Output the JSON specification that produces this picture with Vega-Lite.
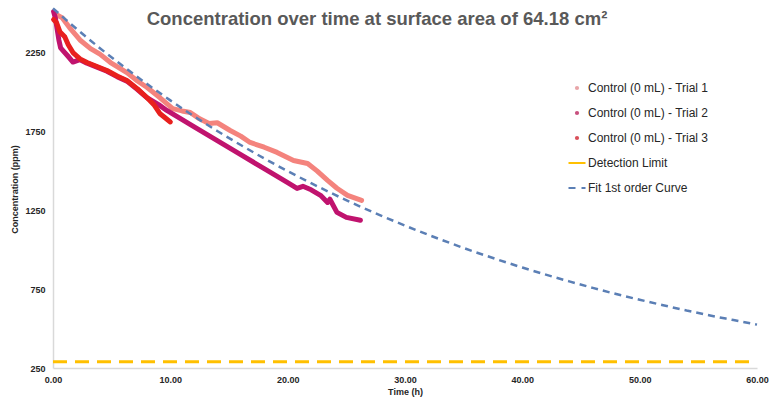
{
  "$schema": "https://vega.github.io/schema/vega-lite/v6.json",
  "width": 704,
  "height": 358,
  "autosize": {"type": "none"},
  "padding": {"left": 53, "top": 10, "right": 16, "bottom": 41},
  "background": "white",
  "title": {
    "text": "Concentration over time at surface area of 64.18 cm²",
    "font": "Liberation Sans",
    "fontSize": 18.5,
    "fontWeight": "bold",
    "color": "#595959",
    "anchor": "middle",
    "dx": -28,
    "offset": -25
  },
  "config": {
    "view": {"stroke": null},
    "font": "Liberation Sans",
    "axis": {
      "grid": false,
      "ticks": false,
      "domainColor": "#D9D9D9",
      "domainWidth": 1.5,
      "labelFont": "Liberation Sans",
      "labelFontSize": 9,
      "labelFontWeight": "bold",
      "labelColor": "#262626",
      "titleFont": "Liberation Sans",
      "titleFontSize": 9,
      "titleColor": "#262626",
      "titleFontWeight": "bold"
    }
  },
  "datasets": {
    "trials": [
      {"t": 0.3, "c": 2490, "series": "Control (0 mL) - Trial 1"},
      {"t": 0.8, "c": 2470, "series": "Control (0 mL) - Trial 1"},
      {"t": 1.5, "c": 2400, "series": "Control (0 mL) - Trial 1"},
      {"t": 2.3, "c": 2330, "series": "Control (0 mL) - Trial 1"},
      {"t": 3.2, "c": 2275, "series": "Control (0 mL) - Trial 1"},
      {"t": 4.0, "c": 2240, "series": "Control (0 mL) - Trial 1"},
      {"t": 4.9, "c": 2187, "series": "Control (0 mL) - Trial 1"},
      {"t": 5.5, "c": 2160, "series": "Control (0 mL) - Trial 1"},
      {"t": 6.3, "c": 2123, "series": "Control (0 mL) - Trial 1"},
      {"t": 7.2, "c": 2070, "series": "Control (0 mL) - Trial 1"},
      {"t": 8.0, "c": 2030, "series": "Control (0 mL) - Trial 1"},
      {"t": 9.1, "c": 1965, "series": "Control (0 mL) - Trial 1"},
      {"t": 10.2, "c": 1895, "series": "Control (0 mL) - Trial 1"},
      {"t": 11.0, "c": 1880, "series": "Control (0 mL) - Trial 1"},
      {"t": 11.7, "c": 1870, "series": "Control (0 mL) - Trial 1"},
      {"t": 12.5, "c": 1830, "series": "Control (0 mL) - Trial 1"},
      {"t": 13.3, "c": 1800, "series": "Control (0 mL) - Trial 1"},
      {"t": 14.0, "c": 1805, "series": "Control (0 mL) - Trial 1"},
      {"t": 15.1, "c": 1756, "series": "Control (0 mL) - Trial 1"},
      {"t": 16.0, "c": 1720, "series": "Control (0 mL) - Trial 1"},
      {"t": 16.8, "c": 1680, "series": "Control (0 mL) - Trial 1"},
      {"t": 18.0, "c": 1650, "series": "Control (0 mL) - Trial 1"},
      {"t": 19.1, "c": 1617, "series": "Control (0 mL) - Trial 1"},
      {"t": 20.5, "c": 1566, "series": "Control (0 mL) - Trial 1"},
      {"t": 21.7, "c": 1547, "series": "Control (0 mL) - Trial 1"},
      {"t": 22.5, "c": 1500, "series": "Control (0 mL) - Trial 1"},
      {"t": 23.4, "c": 1440, "series": "Control (0 mL) - Trial 1"},
      {"t": 24.2, "c": 1390, "series": "Control (0 mL) - Trial 1"},
      {"t": 25.1, "c": 1345, "series": "Control (0 mL) - Trial 1"},
      {"t": 26.3, "c": 1313, "series": "Control (0 mL) - Trial 1"},
      {"t": 0.05, "c": 2510, "series": "Control (0 mL) - Trial 2"},
      {"t": 0.2, "c": 2470, "series": "Control (0 mL) - Trial 2"},
      {"t": 0.35, "c": 2400, "series": "Control (0 mL) - Trial 2"},
      {"t": 0.5, "c": 2330, "series": "Control (0 mL) - Trial 2"},
      {"t": 0.65, "c": 2280, "series": "Control (0 mL) - Trial 2"},
      {"t": 0.85, "c": 2263, "series": "Control (0 mL) - Trial 2"},
      {"t": 1.3, "c": 2225, "series": "Control (0 mL) - Trial 2"},
      {"t": 1.7, "c": 2190, "series": "Control (0 mL) - Trial 2"},
      {"t": 2.3, "c": 2205, "series": "Control (0 mL) - Trial 2"},
      {"t": 2.9, "c": 2183, "series": "Control (0 mL) - Trial 2"},
      {"t": 3.8, "c": 2156, "series": "Control (0 mL) - Trial 2"},
      {"t": 4.6, "c": 2132, "series": "Control (0 mL) - Trial 2"},
      {"t": 5.5, "c": 2096, "series": "Control (0 mL) - Trial 2"},
      {"t": 6.3, "c": 2069, "series": "Control (0 mL) - Trial 2"},
      {"t": 7.2, "c": 2016, "series": "Control (0 mL) - Trial 2"},
      {"t": 8.0, "c": 1965, "series": "Control (0 mL) - Trial 2"},
      {"t": 9.0, "c": 1920, "series": "Control (0 mL) - Trial 2"},
      {"t": 9.7, "c": 1883, "series": "Control (0 mL) - Trial 2"},
      {"t": 12.0, "c": 1780, "series": "Control (0 mL) - Trial 2"},
      {"t": 14.0, "c": 1692, "series": "Control (0 mL) - Trial 2"},
      {"t": 16.0, "c": 1603, "series": "Control (0 mL) - Trial 2"},
      {"t": 18.0, "c": 1514, "series": "Control (0 mL) - Trial 2"},
      {"t": 20.0, "c": 1425, "series": "Control (0 mL) - Trial 2"},
      {"t": 20.8, "c": 1389, "series": "Control (0 mL) - Trial 2"},
      {"t": 21.3, "c": 1402, "series": "Control (0 mL) - Trial 2"},
      {"t": 22.0, "c": 1380, "series": "Control (0 mL) - Trial 2"},
      {"t": 22.8, "c": 1345, "series": "Control (0 mL) - Trial 2"},
      {"t": 23.4, "c": 1300, "series": "Control (0 mL) - Trial 2"},
      {"t": 23.6, "c": 1320, "series": "Control (0 mL) - Trial 2"},
      {"t": 24.2, "c": 1237, "series": "Control (0 mL) - Trial 2"},
      {"t": 25.0, "c": 1205, "series": "Control (0 mL) - Trial 2"},
      {"t": 26.2, "c": 1187, "series": "Control (0 mL) - Trial 2"},
      {"t": 0.05, "c": 2460, "series": "Control (0 mL) - Trial 3"},
      {"t": 0.3, "c": 2440, "series": "Control (0 mL) - Trial 3"},
      {"t": 0.6, "c": 2380, "series": "Control (0 mL) - Trial 3"},
      {"t": 1.0, "c": 2350, "series": "Control (0 mL) - Trial 3"},
      {"t": 1.3, "c": 2300, "series": "Control (0 mL) - Trial 3"},
      {"t": 1.7, "c": 2250, "series": "Control (0 mL) - Trial 3"},
      {"t": 2.3, "c": 2210, "series": "Control (0 mL) - Trial 3"},
      {"t": 2.9, "c": 2187, "series": "Control (0 mL) - Trial 3"},
      {"t": 3.8, "c": 2160, "series": "Control (0 mL) - Trial 3"},
      {"t": 4.6, "c": 2136, "series": "Control (0 mL) - Trial 3"},
      {"t": 5.5, "c": 2100, "series": "Control (0 mL) - Trial 3"},
      {"t": 6.3, "c": 2073, "series": "Control (0 mL) - Trial 3"},
      {"t": 7.2, "c": 2020, "series": "Control (0 mL) - Trial 3"},
      {"t": 8.0, "c": 1965, "series": "Control (0 mL) - Trial 3"},
      {"t": 8.6, "c": 1920, "series": "Control (0 mL) - Trial 3"},
      {"t": 9.1, "c": 1864, "series": "Control (0 mL) - Trial 3"},
      {"t": 9.5, "c": 1840, "series": "Control (0 mL) - Trial 3"},
      {"t": 10.0, "c": 1810, "series": "Control (0 mL) - Trial 3"}
    ],
    "limit": [
      {"t": 0, "c": 290, "series": "Detection Limit"},
      {"t": 60, "c": 290, "series": "Detection Limit"}
    ],
    "fit": [
      {"t": 0, "c": 2530, "series": "Fit 1st order Curve"},
      {"t": 2, "c": 2401, "series": "Fit 1st order Curve"},
      {"t": 4, "c": 2278, "series": "Fit 1st order Curve"},
      {"t": 6, "c": 2162, "series": "Fit 1st order Curve"},
      {"t": 8, "c": 2052, "series": "Fit 1st order Curve"},
      {"t": 10, "c": 1947, "series": "Fit 1st order Curve"},
      {"t": 12, "c": 1847, "series": "Fit 1st order Curve"},
      {"t": 14, "c": 1753, "series": "Fit 1st order Curve"},
      {"t": 16, "c": 1664, "series": "Fit 1st order Curve"},
      {"t": 18, "c": 1579, "series": "Fit 1st order Curve"},
      {"t": 20, "c": 1498, "series": "Fit 1st order Curve"},
      {"t": 22, "c": 1422, "series": "Fit 1st order Curve"},
      {"t": 24, "c": 1349, "series": "Fit 1st order Curve"},
      {"t": 26, "c": 1280, "series": "Fit 1st order Curve"},
      {"t": 28, "c": 1215, "series": "Fit 1st order Curve"},
      {"t": 30, "c": 1153, "series": "Fit 1st order Curve"},
      {"t": 32, "c": 1094, "series": "Fit 1st order Curve"},
      {"t": 34, "c": 1038, "series": "Fit 1st order Curve"},
      {"t": 36, "c": 985, "series": "Fit 1st order Curve"},
      {"t": 38, "c": 935, "series": "Fit 1st order Curve"},
      {"t": 40, "c": 887, "series": "Fit 1st order Curve"},
      {"t": 42, "c": 842, "series": "Fit 1st order Curve"},
      {"t": 44, "c": 799, "series": "Fit 1st order Curve"},
      {"t": 46, "c": 758, "series": "Fit 1st order Curve"},
      {"t": 48, "c": 719, "series": "Fit 1st order Curve"},
      {"t": 50, "c": 683, "series": "Fit 1st order Curve"},
      {"t": 52, "c": 648, "series": "Fit 1st order Curve"},
      {"t": 54, "c": 615, "series": "Fit 1st order Curve"},
      {"t": 56, "c": 583, "series": "Fit 1st order Curve"},
      {"t": 58, "c": 554, "series": "Fit 1st order Curve"},
      {"t": 60, "c": 525, "series": "Fit 1st order Curve"}
    ]
  },
  "encoding": {
    "x": {
      "field": "t",
      "type": "quantitative",
      "scale": {"domain": [0, 60], "nice": false},
      "axis": {
        "title": "Time (h)",
        "values": [0, 10, 20, 30, 40, 50, 60],
        "format": ".2f",
        "labelPadding": 7,
        "titlePadding": 3,
        "labelFlush": false
      }
    },
    "y": {
      "field": "c",
      "type": "quantitative",
      "scale": {"domain": [250, 2520], "nice": false, "zero": false},
      "axis": {
        "title": "Concentration (ppm)",
        "values": [250, 750, 1250, 1750, 2250],
        "format": "d",
        "labelPadding": 8,
        "titlePadding": 5,
        "labelFlush": false
      }
    },
    "color": {
      "field": "series",
      "type": "nominal",
      "scale": {
        "domain": ["Control (0 mL) - Trial 1", "Control (0 mL) - Trial 2", "Control (0 mL) - Trial 3", "Detection Limit", "Fit 1st order Curve"],
        "range": ["#F4837D", "#C0136E", "#E8201E", "#FFC000", "#5B7FB5"]
      },
      "legend": {
        "title": null,
        "orient": "none",
        "legendX": 518,
        "legendY": 72,
        "padding": 0,
        "labelFont": "Liberation Sans",
        "labelFontSize": 12,
        "labelColor": "#262626",
        "labelOffset": 5,
        "rowPadding": 13,
        "symbolSize": 289,
        "symbolStrokeWidth": 2,
        "encode": {
          "symbols": {
            "update": {
              "shape": {"signal": "datum.label == 'Detection Limit' || datum.label == 'Fit 1st order Curve' ? 'stroke' : 'circle'"},
              "size": {"signal": "datum.label == 'Detection Limit' || datum.label == 'Fit 1st order Curve' ? 289 : 18"},
              "strokeWidth": {"signal": "datum.label == 'Detection Limit' || datum.label == 'Fit 1st order Curve' ? 2 : 0"},
              "fill": {"signal": "datum.label == 'Control (0 mL) - Trial 1' ? '#E8A5A8' : datum.label == 'Control (0 mL) - Trial 2' ? '#C8507E' : datum.label == 'Control (0 mL) - Trial 3' ? '#D9505A' : 'transparent'"},
              "strokeDash": {"signal": "datum.label == 'Fit 1st order Curve' ? [7, 6] : [1, 0]"}
            }
          }
        }
      }
    }
  },
  "layer": [
    {
      "data": {"name": "trials"},
      "mark": {"type": "line", "strokeWidth": 5, "strokeCap": "round", "strokeJoin": "round"},
      "encoding": {"detail": {"field": "series"}}
    },
    {
      "data": {"name": "limit"},
      "mark": {"type": "line", "strokeWidth": 3, "strokeDash": [14, 8]},
      "encoding": {}
    },
    {
      "data": {"name": "fit"},
      "mark": {"type": "line", "strokeWidth": 2.5, "strokeDash": [7, 5], "interpolate": "monotone"},
      "encoding": {}
    }
  ]
}
